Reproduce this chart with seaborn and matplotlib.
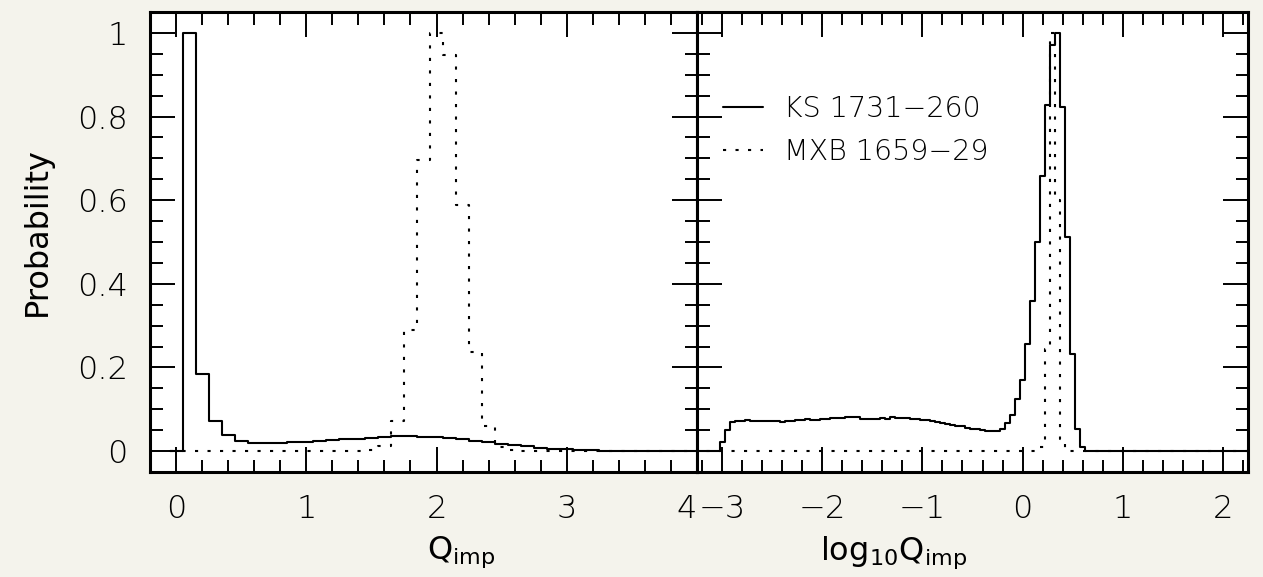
import numpy as np
import pandas as pd
import matplotlib
matplotlib.use("Agg")
import matplotlib.pyplot as plt
from matplotlib.lines import Line2D
from matplotlib.ticker import MultipleLocator, FixedLocator, FuncFormatter
import seaborn as sns

# ---------------------------------------------------------------------------
# Histogram data (normalised so that the highest bin is 1)
# ---------------------------------------------------------------------------
# Linear Q_imp: bin centres 0.0 ... 4.0, bin width 0.1
q_width = 0.1
q_centers = np.round(np.arange(0.0, 4.0 + 1e-9, q_width), 2)

ks_q = [0.0, 1.0, 0.184, 0.071, 0.039, 0.024, 0.019, 0.019, 0.019, 0.021,
        0.022, 0.024, 0.026, 0.028, 0.030, 0.032, 0.034, 0.035, 0.035, 0.034,
        0.033, 0.031, 0.028, 0.025, 0.021, 0.017, 0.014, 0.011, 0.008, 0.006,
        0.004, 0.003, 0.002, 0.001, 0.001, 0.0, 0.0, 0.0, 0.0, 0.0, 0.0]

mxb_q = ([0.0] * 15 +
         [0.002, 0.012, 0.073, 0.290, 0.695, 1.0, 0.948, 0.589, 0.237, 0.059,
          0.010, 0.002] +
         [0.0] * 14)

# log10 Q_imp: bin centres -3.25 ... 2.25, bin width 0.05
log_width = 0.05
log_centers = np.round(np.arange(-3.25, 2.25 + 1e-9, log_width), 2)

ks_log = ([0.0] * 5 +
          [0.021, 0.050, 0.069, 0.073, 0.072, 0.075, 0.073, 0.072, 0.072, 0.071,
           0.072, 0.072, 0.070, 0.072, 0.073, 0.074, 0.074, 0.077, 0.075, 0.075,
           0.076, 0.077, 0.078, 0.079, 0.080, 0.082, 0.082, 0.081, 0.077, 0.076,
           0.077, 0.076, 0.080, 0.076, 0.081, 0.079, 0.078, 0.078, 0.077, 0.076,
           0.075, 0.074, 0.072, 0.070, 0.067, 0.065, 0.063, 0.061, 0.059, 0.056,
           0.054, 0.053, 0.051, 0.049, 0.048, 0.049, 0.054, 0.068, 0.086, 0.124,
           0.171, 0.255, 0.359, 0.499, 0.659, 0.827, 0.971, 1.0, 0.824, 0.512,
           0.233, 0.054, 0.010] +
          [0.0] * 33)

mxb_log = ([0.0] * 69 +
           [0.010, 0.245, 1.0, 0.600, 0.030] +
           [0.0] * 37)

q_ticks = [0, 1, 2, 3, 4]
log_ticks = [-3, -2, -1, 0, 1, 2]
labels = ["KS 1731\u2212260", "MXB 1659\u221229"]

# ---------------------------------------------------------------------------
# Style
# ---------------------------------------------------------------------------
sns.set_style("ticks")
plt.rcParams["font.family"] = ["DejaVu Sans"]
plt.rcParams["font.weight"] = "light"
plt.rcParams["mathtext.default"] = "regular"

text_color = "black"
bg_color = "#f4f3ec"
line_w = 1.5
dotted = (0, (1.5, 4.5))

fig, (ax1, ax2) = plt.subplots(
    1, 2, figsize=(12.63, 5.77), dpi=100,
    gridspec_kw={"width_ratios": [547, 551], "wspace": 0})
fig.patch.set_facecolor(bg_color)
fig.subplots_adjust(left=150 / 1263, right=1248 / 1263,
                    bottom=1 - 472 / 577, top=1 - 12 / 577)


def draw_hist(ax, centers, width, values, style):
    centers = np.asarray(centers, dtype=float)
    edges = np.append(centers - width / 2, centers[-1] + width / 2)
    df = pd.DataFrame({"x": centers, "w": values})
    sns.histplot(data=df, x="x", weights="w", bins=edges.tolist(),
                 element="step", fill=False, color="black",
                 linewidth=line_w, linestyle=style, ax=ax)


draw_hist(ax1, q_centers, q_width, mxb_q, dotted)
draw_hist(ax1, q_centers, q_width, ks_q, "-")
draw_hist(ax2, log_centers, log_width, mxb_log, dotted)
draw_hist(ax2, log_centers, log_width, ks_log, "-")

ax1.set_xlim(-0.2, 4.0)
ax2.set_xlim(-3.25, 2.25)

yfmt = FuncFormatter(lambda v, p: f"{round(v, 2) + 0:g}")
for ax in (ax1, ax2):
    ax.set_facecolor("white")
    ax.set_ylim(-0.05, 1.05)
    ax.yaxis.set_major_locator(MultipleLocator(0.2))
    ax.yaxis.set_minor_locator(MultipleLocator(0.05))
    ax.yaxis.set_major_formatter(yfmt)
    ax.xaxis.set_minor_locator(MultipleLocator(0.2))
    for s in ax.spines.values():
        s.set_visible(True)
        s.set_linewidth(2.2)
        s.set_color("black")
    ax.set_ylabel("")

ax1.xaxis.set_major_locator(FixedLocator(q_ticks))
ax2.xaxis.set_major_locator(FixedLocator(log_ticks))
ax1.set_xticklabels([f"{t}" for t in q_ticks])
ax2.set_xticklabels([f"{t}".replace("-", "\u2212") for t in log_ticks])

for ax in (ax1, ax2):
    ax.tick_params(which="both", direction="in", top=True, right=True,
                   bottom=True, left=True, width=1.4, color="black",
                   labelcolor=text_color, labelsize=23)
    ax.tick_params(which="major", length=18, pad=16)
    ax.tick_params(which="minor", length=9)
ax2.tick_params(labelleft=False)

# the "4" at the shared edge sits just left of the neighbouring "-3"
for tick in ax1.xaxis.get_major_ticks():
    if np.isclose(tick.get_loc(), 4):
        tick.label1.set_horizontalalignment("right")

ax1.set_xlabel(r"$\mathregular{Q_{imp}}$", fontsize=23, color=text_color)
ax2.set_xlabel(r"$\mathregular{log_{10}Q_{imp}}$", fontsize=23,
               color=text_color)
ax1.set_ylabel("Probability", fontsize=23, color=text_color)
ax1.xaxis.set_label_coords(0.569, -0.135)
ax2.xaxis.set_label_coords(0.356, -0.135)
ax1.yaxis.set_label_coords(-0.177, 0.523)

handles = [Line2D([], [], color="black", lw=line_w, ls="-"),
           Line2D([], [], color="black", lw=line_w, ls=dotted)]
ax2.legend(handles=handles, labels=labels, loc="upper left",
           bbox_to_anchor=(0.047, 0.82), frameon=False, borderpad=0,
           borderaxespad=0, handlelength=1.4, handletextpad=0.75,
           labelspacing=0.55, fontsize=20.5, labelcolor=text_color)

fig.savefig("out.png", dpi=100, facecolor=bg_color)
